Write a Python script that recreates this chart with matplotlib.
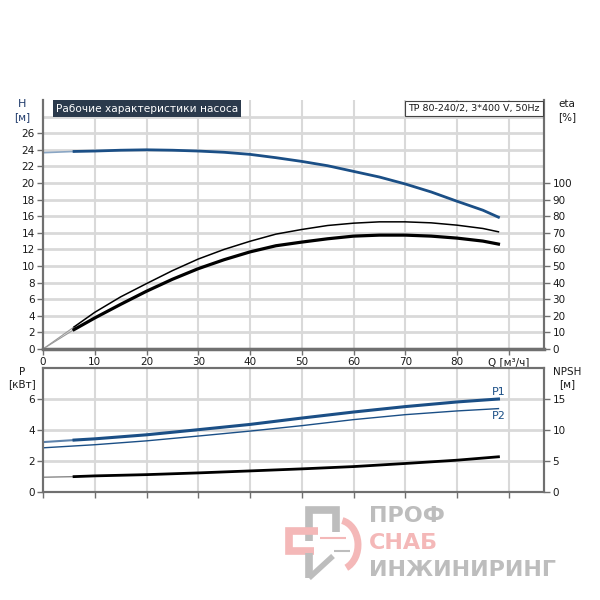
import matplotlib
matplotlib.use("Agg")
import matplotlib.pyplot as plt
from matplotlib.lines import Line2D
from matplotlib.patches import Arc

# расход, м3/ч (верхний график)
q = [0, 6, 10, 15, 20, 25, 30, 35, 40, 45, 50, 55, 60, 65, 70, 75, 80, 85, 88]
# напор H, м
h = [23.65, 23.8, 23.85, 23.95, 24.0, 23.95, 23.85, 23.7, 23.45, 23.05, 22.6,
     22.08, 21.4, 20.72, 19.88, 18.92, 17.8, 16.72, 15.88]
# КПД, %
eta_1 = [0, 13.3, 22.1, 31.4, 39.4, 47.2, 54.2, 60.0, 64.9, 69.2, 72.0,
         74.4, 75.8, 76.6, 76.6, 76.0, 74.6, 72.6, 70.6]
eta_2 = [0, 11.7, 18.7, 26.9, 34.8, 42.0, 48.4, 53.8, 58.5, 62.2, 64.4,
         66.4, 68.0, 68.6, 68.6, 68.0, 66.8, 65.0, 63.2]

# расход, м3/ч (нижний график)
qp = [0, 6, 10, 20, 30, 40, 50, 60, 70, 80, 88]
# мощность, кВт
p1 = [3.22, 3.35, 3.43, 3.69, 4.02, 4.36, 4.77, 5.16, 5.51, 5.81, 6.00]
p2 = [2.85, 2.97, 3.05, 3.30, 3.61, 3.93, 4.28, 4.67, 4.99, 5.23, 5.38]
# NPSH, м
npsh = [2.38, 2.48, 2.6, 2.8, 3.08, 3.4, 3.73, 4.1, 4.6, 5.13, 5.68]

x_ticks = [0, 10, 20, 30, 40, 50, 60, 70, 80, 90]
x_labels = ['0', '10', '20', '30', '40', '50', '60', '70', '80', 'Q [м³/ч]']

BLUE = '#1b4f86'
GRID = '#d9d9d9'
SPINE = '#707070'
TXT = '#1a1a1a'

plt.rcParams['font.family'] = ['DejaVu Sans']
plt.rcParams['font.size'] = 7.5

fig = plt.figure(figsize=(6, 6), dpi=100)
fig.patch.set_facecolor('white')

ax = fig.add_axes([43/600, 1-349/600, 501/600, 249/600])
ax2 = ax.twinx()
bx = fig.add_axes([43/600, 1-492/600, 501/600, 124/600])
bx2 = bx.twinx()


def style(a, a2, ylim, ystep, yticks, ylim2, yticks2):
    a.set_xlim(0, 96.8)
    a.set_ylim(*ylim)
    a.set_yticks(yticks)
    a2.set_ylim(*ylim2)
    a2.set_yticks(yticks2)
    a.set_xticks(x_ticks)
    for xv in x_ticks[1:]:
        a.axvline(xv, color=GRID, lw=1.5, zorder=0)
    yv = ystep
    while yv < ylim[1]:
        a.axhline(yv, color=GRID, lw=2, zorder=0)
        yv += ystep
    for s in ['left', 'right', 'bottom', 'top']:
        for aa in (a, a2):
            aa.spines[s].set_color(SPINE)
            aa.spines[s].set_linewidth(1.5)
    for aa in (a, a2):
        aa.tick_params(colors=SPINE, labelcolor=TXT, length=4, width=1, pad=2)


style(ax, ax2, (0, 30), 2, list(range(0, 27, 2)), (0, 150), list(range(0, 101, 10)))
style(bx, bx2, (0, 8), 2, [0, 2, 4, 6], (0, 20), [0, 5, 10, 15])
ax.spines['top'].set_visible(False)
ax2.spines['top'].set_visible(False)
ax.spines['bottom'].set_linewidth(2.5)
ax.spines['left'].set_color('#333333')
ax.set_xticklabels(x_labels)
bx.set_xticklabels([])

# кривые напора и КПД (первый участок до 6 м3/ч тонкий)
ax.plot(q[:2], h[:2], color='#8aa6c4', lw=1.2)
ax.plot(q[1:], h[1:], color=BLUE, lw=2)
ax2.plot(q[:2], eta_1[:2], color='#999999', lw=0.8)
ax2.plot(q[1:], eta_1[1:], color='black', lw=1.1)
ax2.plot(q[:2], eta_2[:2], color='#999999', lw=0.8)
ax2.plot(q[1:], eta_2[1:], color='black', lw=2.3)

# мощность и NPSH
bx.plot(qp[:2], p1[:2], color='#5d82ab', lw=1.5)
bx.plot(qp[1:], p1[1:], color=BLUE, lw=2.2)
bx.plot(qp, p2, color=BLUE, lw=1)
bx2.plot(qp[:2], npsh[:2], color='#888888', lw=1)
bx2.plot(qp[1:], npsh[1:], color='black', lw=2)
bx.text(qp[-1], p1[-1] + 0.15, 'P1', color=BLUE, fontsize=8, ha='center', va='bottom')
bx.text(qp[-1], p2[-1] - 0.15, 'P2', color=BLUE, fontsize=8, ha='center', va='top')

# подписи осей
fig.text(22/600, 1-104/600, 'H', color='#1f3a6b', fontsize=8, ha='center', va='center')
fig.text(22/600, 1-117/600, '[м]', color='#1f3a6b', fontsize=7.5, ha='center', va='center')
fig.text(567/600, 1-104/600, 'eta', color=TXT, fontsize=7.5, ha='center', va='center')
fig.text(567/600, 1-117/600, '[%]', color=TXT, fontsize=7.5, ha='center', va='center')
fig.text(22/600, 1-372/600, 'P', color=TXT, fontsize=7.5, ha='center', va='center')
fig.text(22/600, 1-384/600, '[кВт]', color=TXT, fontsize=7.5, ha='center', va='center')
fig.text(567/600, 1-372/600, 'NPSH', color=TXT, fontsize=7.5, ha='center', va='center')
fig.text(567/600, 1-384/600, '[м]', color=TXT, fontsize=7.5, ha='center', va='center')

# заголовки
fig.text(56/600, 1-108.5/600, 'Рабочие характеристики насоса', color='white', fontsize=7.6,
         ha='left', va='center',
         bbox=dict(boxstyle='square,pad=0.3', fc='#2b3a4c', ec='none'))
fig.text(540/600, 1-108.5/600, 'TP 80-240/2, 3*400 V, 50Hz', color=TXT, fontsize=6.8,
         ha='right', va='center',
         bbox=dict(boxstyle='square,pad=0.35', fc='white', ec='#444444', lw=0.8))

# логотип (водяной знак)
GRAY = '#bdbdbd'
PINK = '#f4b8b8'


def px_line(xs, ys, color, lw=5.5):
    fig.add_artist(Line2D([x / 600 for x in xs], [1 - y / 600 for y in ys],
                          transform=fig.transFigure, color=color, lw=lw,
                          solid_joinstyle='miter', solid_capstyle='butt'))


px_line([309, 309, 336, 336], [541, 510, 510, 532], GRAY)
px_line([318, 289, 289, 314], [531, 531, 551, 551], PINK)
px_line([309, 309], [553, 578], GRAY)
px_line([309, 333], [578, 556], GRAY, lw=4)
fig.add_artist(Arc((338/600, 1-545/600), 40/600, 50/600, theta1=-70, theta2=80,
                   transform=fig.transFigure, color=PINK, lw=5))
px_line([320, 346], [538, 538], PINK, lw=1.5)
px_line([334, 350], [551, 551], GRAY, lw=1.5)
fig.text(369/600, 1-516/600, 'ПРОФ', color=GRAY, fontsize=16, fontweight='bold',
         ha='left', va='center')
fig.text(369/600, 1-543/600, 'СНАБ', color=PINK, fontsize=16, fontweight='bold',
         ha='left', va='center')
fig.text(369/600, 1-570/600, 'ИНЖИНИРИНГ', color=GRAY, fontsize=16, fontweight='bold',
         ha='left', va='center')

fig.savefig('out.png', dpi=100)
